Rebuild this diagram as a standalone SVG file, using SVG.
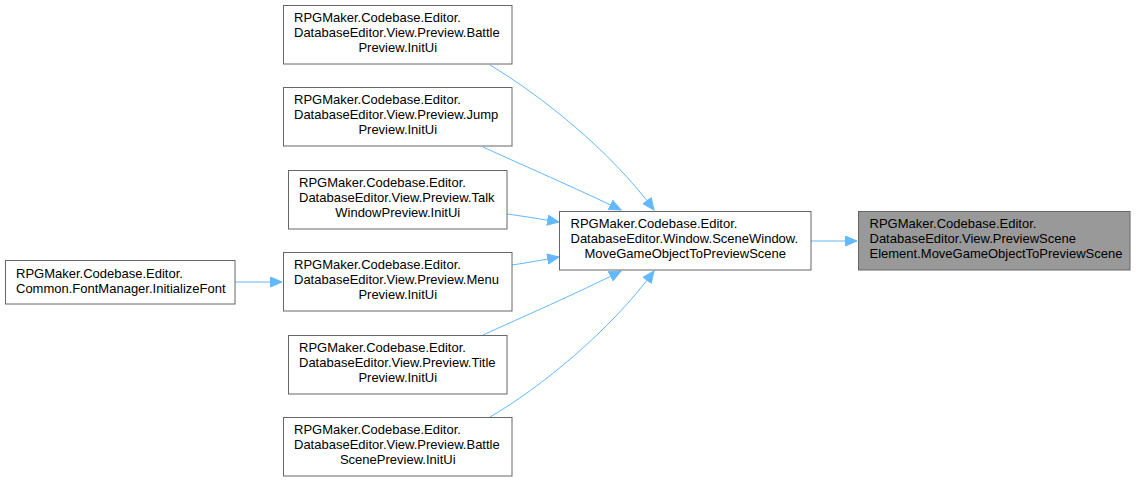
<svg xmlns="http://www.w3.org/2000/svg" width="1136" height="483" viewBox="0 0 1136 483">
<style>
.n rect{fill:#ffffff;stroke:#666666;stroke-width:1}
.n.hl rect{fill:#999999;stroke:#666666}
text{font-family:"Liberation Sans",Arial,sans-serif;font-size:13px;fill:#000000}
.c{text-anchor:middle}
.e path{fill:none;stroke:#63b8ff;stroke-width:1}
</style>
<defs>
<marker id="ah" markerUnits="userSpaceOnUse" markerWidth="13" markerHeight="11" refX="12" refY="5.5" orient="auto">
<path d="M0.5,0.5 L12,5.5 L0.5,10.5 Z" fill="#63b8ff" stroke="#63b8ff" stroke-width="1"/>
</marker>
</defs>
<rect width="1136" height="483" fill="#ffffff"/>
<g class="e" id="edges">
<path d="M490,65 C540,95 610,150 654,210" marker-end="url(#ah)"/>
<path d="M483,147 C520,164 580,190 621,210" marker-end="url(#ah)"/>
<path d="M507,214 C522,216 540,219 559,222" marker-end="url(#ah)"/>
<path d="M512,265 C526,263 542,260 559,257" marker-end="url(#ah)"/>
<path d="M483,335 C520,318 580,292 621,271" marker-end="url(#ah)"/>
<path d="M490,417 C540,388 610,331 654,271" marker-end="url(#ah)"/>
<path d="M811,241 L857,241" marker-end="url(#ah)"/>
<path d="M235,282 L282,282" marker-end="url(#ah)"/>
</g>
<g class="n" id="battle">
<rect x="283.5" y="5.5" width="228.5" height="58.5"/>
<text x="294" y="22">RPGMaker.Codebase.Editor.</text>
<text x="294" y="37">DatabaseEditor.View.Preview.Battle</text>
<text x="397.75" y="52" class="c">Preview.InitUi</text>
</g>
<g class="n" id="jump">
<rect x="283.5" y="87.5" width="228.5" height="58.5"/>
<text x="294" y="104">RPGMaker.Codebase.Editor.</text>
<text x="294" y="119">DatabaseEditor.View.Preview.Jump</text>
<text x="397.75" y="134" class="c">Preview.InitUi</text>
</g>
<g class="n" id="talk">
<rect x="288.5" y="170.5" width="218.5" height="58.5"/>
<text x="299" y="187">RPGMaker.Codebase.Editor.</text>
<text x="299" y="202">DatabaseEditor.View.Preview.Talk</text>
<text x="397.75" y="217" class="c">WindowPreview.InitUi</text>
</g>
<g class="n" id="menu">
<rect x="283.5" y="252.5" width="228.5" height="58.5"/>
<text x="294" y="269">RPGMaker.Codebase.Editor.</text>
<text x="294" y="284">DatabaseEditor.View.Preview.Menu</text>
<text x="397.75" y="299" class="c">Preview.InitUi</text>
</g>
<g class="n" id="title">
<rect x="288.5" y="335.5" width="218.5" height="58.5"/>
<text x="299" y="352">RPGMaker.Codebase.Editor.</text>
<text x="299" y="367">DatabaseEditor.View.Preview.Title</text>
<text x="397.75" y="382" class="c">Preview.InitUi</text>
</g>
<g class="n" id="battlescene">
<rect x="283.5" y="417.5" width="228.5" height="58.5"/>
<text x="294" y="434">RPGMaker.Codebase.Editor.</text>
<text x="294" y="449">DatabaseEditor.View.Preview.Battle</text>
<text x="397.75" y="464" class="c">ScenePreview.InitUi</text>
</g>
<g class="n" id="fontmanager">
<rect x="5.5" y="260.5" width="229.5" height="43.5"/>
<text x="16" y="278">RPGMaker.Codebase.Editor.</text>
<text x="16" y="293">Common.FontManager.InitializeFont</text>
</g>
<g class="n" id="scenewindow">
<rect x="559.5" y="211.5" width="251.5" height="58.5"/>
<text x="570.5" y="228">RPGMaker.Codebase.Editor.</text>
<text x="570.5" y="243">DatabaseEditor.Window.SceneWindow.</text>
<text x="685.25" y="258" class="c">MoveGameObjectToPreviewScene</text>
</g>
<g class="n hl" id="previewscene">
<rect x="858.5" y="211.5" width="271.5" height="58.5"/>
<text x="869.5" y="228">RPGMaker.Codebase.Editor.</text>
<text x="869.5" y="243">DatabaseEditor.View.PreviewScene</text>
<text x="869.5" y="258">Element.MoveGameObjectToPreviewScene</text>
</g>
</svg>
